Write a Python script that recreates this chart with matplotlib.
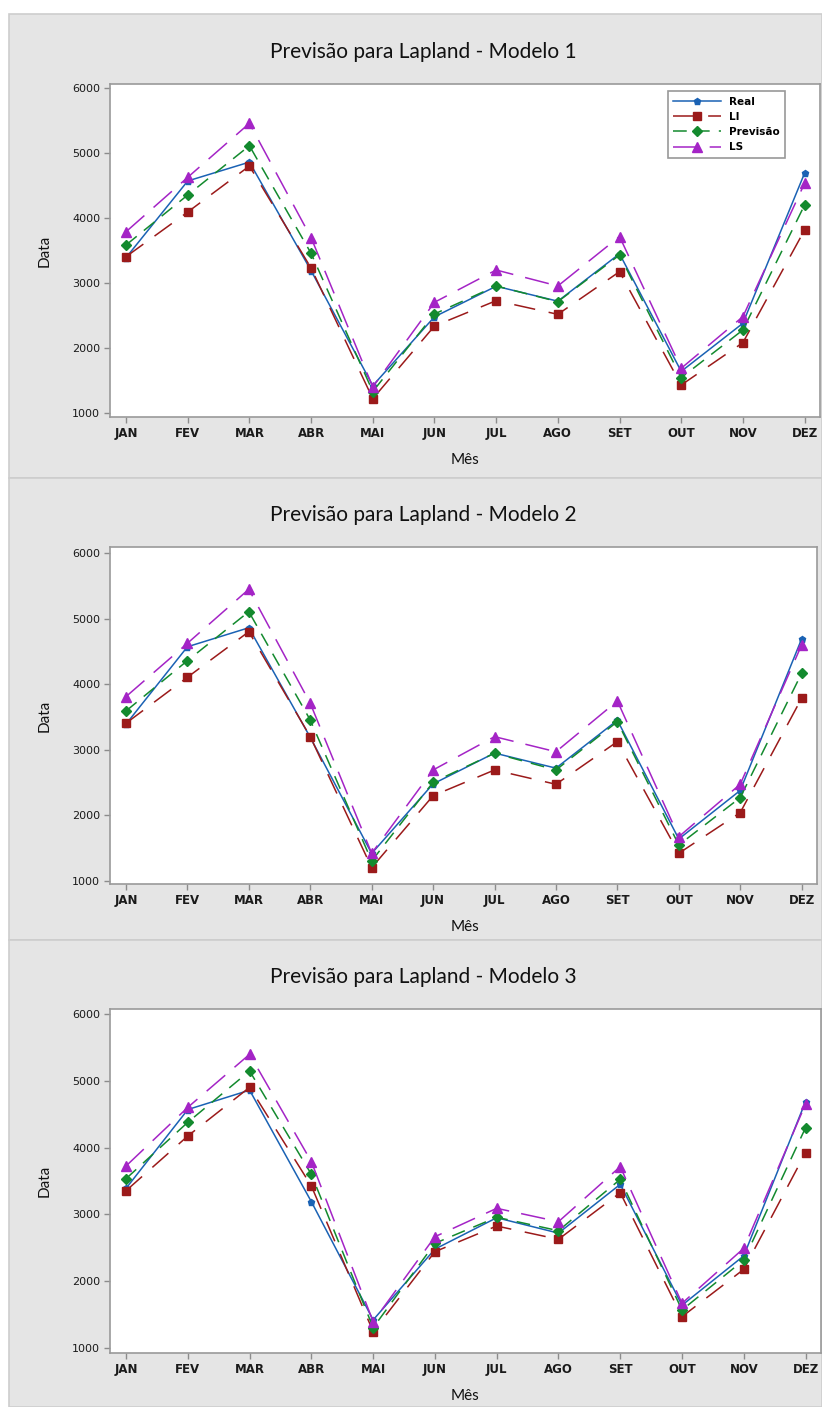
import matplotlib
matplotlib.use("Agg")
import matplotlib.pyplot as plt
from matplotlib.patches import Rectangle

W, H = 822, 1407

meses = ["JAN", "FEV", "MAR", "ABR", "MAI", "JUN", "JUL", "AGO", "SET", "OUT", "NOV", "DEZ"]

real = [3390, 4570, 4860, 3190, 1420, 2480, 2950, 2720, 3450, 1640, 2380, 4690]

li_1 = [3405, 4092, 4800, 3230, 1220, 2338, 2728, 2518, 3174, 1430, 2082, 3815]
prev_1 = [3585, 4354, 5112, 3456, 1330, 2523, 2954, 2713, 3430, 1543, 2277, 4200]
ls_1 = [3789, 4626, 5457, 3697, 1400, 2703, 3200, 2954, 3715, 1688, 2482, 4534]

li_2 = [3404, 4105, 4800, 3200, 1203, 2300, 2692, 2474, 3124, 1422, 2042, 3786]
prev_2 = [3591, 4358, 5105, 3454, 1305, 2505, 2947, 2692, 3428, 1549, 2270, 4166]
ls_2 = [3810, 4623, 5447, 3709, 1422, 2692, 3200, 2970, 3744, 1675, 2474, 4598]

li_3 = [3355, 4174, 4903, 3425, 1244, 2442, 2826, 2627, 3325, 1469, 2178, 3924]
prev_3 = [3535, 4379, 5147, 3600, 1304, 2567, 2957, 2756, 3525, 1569, 2317, 4298]
ls_3 = [3725, 4603, 5397, 3789, 1394, 2666, 3091, 2891, 3715, 1669, 2493, 4653]

titulos = ["Previsão para Lapland - Modelo 1",
           "Previsão para Lapland - Modelo 2",
           "Previsão para Lapland - Modelo 3"]

yticks = [1000, 2000, 3000, 4000, 5000, 6000]

C_REAL = "#1a62b4"
C_LI = "#9b1a1a"
C_PREV = "#138a2e"
C_LS = "#a424c6"
BG = "#e5e5e5"

# panel layout in pixels: (panel top, panel bottom, axes top, axes bottom, axes right, ylim)
paineis = [
    (14, 478, 84, 417, 820, (938, 6062)),
    (478, 940, 547, 884, 817, (954, 6091)),
    (940, 1407, 1009, 1353, 821, (925, 6075)),
]


def fx(x):
    return x / W


def fy(y):
    return 1 - y / H


fig = plt.figure(figsize=(W / 100, H / 100), dpi=100)
fig.patch.set_facecolor("white")

series = [(li_1, prev_1, ls_1), (li_2, prev_2, ls_2), (li_3, prev_3, ls_3)]

for i, (ptop, pbot, atop, abot, aright, ylim) in enumerate(paineis):
    fig.add_artist(Rectangle((fx(9), fy(pbot)), fx(W - 9), (pbot - ptop) / H,
                             transform=fig.transFigure, facecolor=BG,
                             edgecolor="#cdcdcd", linewidth=1.2, zorder=0))

    ax = fig.add_axes([fx(110), fy(abot), fx(aright - 110), (abot - atop) / H])
    ax.set_facecolor("white")
    x = list(range(len(meses)))
    li, prev, ls = series[i]

    ax.plot(x, real, color=C_REAL, lw=1.1, marker="p", ms=5, label="Real")
    ax.plot(x, li, color=C_LI, lw=1.1, marker="s", ms=6, dashes=(14, 9), label="LI")
    ax.plot(x, prev, color=C_PREV, lw=1.1, marker="D", ms=5.5, dashes=(9, 6), label="Previsão")
    ax.plot(x, ls, color=C_LS, lw=1.1, marker="^", ms=6.5, dashes=(16, 8), label="LS")

    ax.set_xlim(-0.26, 11.25)
    ax.set_ylim(*ylim)
    ax.set_xticks(x)
    ax.set_xticklabels(meses, fontsize=8.5, fontweight="bold", color="#1a1a1a")
    ax.set_yticks(yticks)
    ax.set_yticklabels([str(v) for v in yticks], fontsize=8, color="#1a1a1a")
    ax.tick_params(direction="out", length=4, width=1, color="#8c8c8c", pad=3)
    for s in ax.spines.values():
        s.set_color("#9a9a9a")
        s.set_linewidth(1.2)

    fig.text(fx(423), fy(ptop + 38 if i == 0 else ptop + 37), titulos[i],
             ha="center", va="center", fontsize=15, family="Lato", color="#111111")
    fig.text(fx(45), fy((atop + abot) / 2), "Data", rotation=90, ha="center",
             va="center", fontsize=11, family="Lato", color="#111111")
    fig.text(fx(465), fy(abot + 43), "Mês", ha="center", va="center",
             fontsize=11, family="Lato", color="#111111")

    if i == 0:
        leg = ax.legend(loc="upper right",
                        bbox_to_anchor=((785 - 110) / (aright - 110), (abot - 91) / (abot - atop)),
                        prop={"weight": "bold", "size": 7.5},
                        frameon=True, fancybox=False, handlelength=4.6,
                        borderpad=0.55, labelspacing=0.5, borderaxespad=0,
                        handletextpad=0.7)
        leg.get_frame().set_edgecolor("#7f7f7f")
        leg.get_frame().set_linewidth(1.2)

plt.savefig("out.png", dpi=100)
plt.close()
